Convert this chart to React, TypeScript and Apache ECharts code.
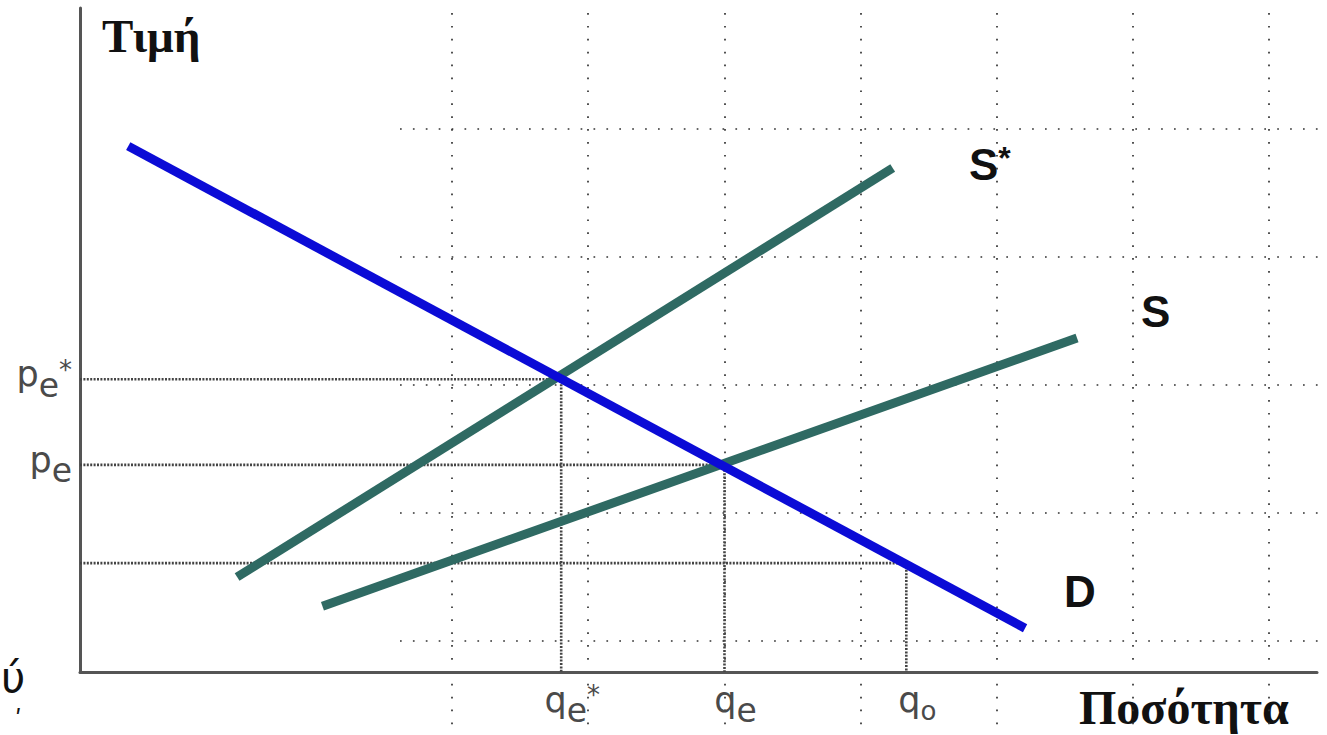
import React, { useEffect, useRef } from "react";
import * as echarts from "echarts";

// ---- data (units: quantity 0..100, price 0..100) ----
const quantityTickValues = [38.9, 52.1, 66.8];
const quantityTickLabels = ["qe*", "qe", "q0"];
const priceTickValues = [31.2, 44.1];
const priceTickLabels = ["pe", "pe*"];

const demandD = [
  [3.9, 79.2],
  [76.4, 6.6],
];
const supplyS = [
  [19.6, 9.9],
  [80.6, 50.3],
];
const supplySStar = [
  [12.7, 14.3],
  [65.7, 75.9],
];

const qeStar = 38.9;
const peStar = 44.1;
const qe = 52.1;
const pe = 31.2;
const q0 = 66.8;
const p0 = 16.4;

const guideStar = [
  [0, peStar],
  [qeStar, peStar],
  [qeStar, 0],
];
const guideE = [
  [0, pe],
  [qe, pe],
  [qe, 0],
];
const guide0 = [
  [0, p0],
  [q0, p0],
  [q0, 0],
];

const xLabelRich: Record<string, string> = {
  "qe*": "{q|q}{e|e}{st|*}",
  qe: "{q|q}{e|e}",
  q0: "{q|q}{o|o}",
};
const yLabelRich: Record<string, string> = {
  "pe*": "{q|p}{e|e}{st|*}",
  pe: "{q|p}{e|e}",
};

function nearestIndex(arr: number[], v: number) {
  let best = 0;
  for (let i = 1; i < arr.length; i++) {
    if (Math.abs(arr[i] - v) < Math.abs(arr[best] - v)) best = i;
  }
  return best;
}

const labelFont = "'DejaVu Sans', Verdana, sans-serif";
const labelColor = "#4a4a4a";
const rich = {
  q: { fontSize: 35, fontFamily: labelFont, color: labelColor, verticalAlign: "top" },
  e: { fontSize: 33, fontFamily: labelFont, color: labelColor, padding: [12, 0, 0, 0] },
  o: { fontSize: 26, fontFamily: labelFont, color: labelColor, padding: [16, 0, 0, 0] },
  st: { fontSize: 26, fontFamily: labelFont, color: labelColor, verticalAlign: "top" },
};

const gridDot = { color: "#333", width: 1.7, type: [1.7, 11.2] as number[] };
const guideStyle = { color: "#444", width: 2.6, type: [2, 1.4] as number[] };

const curveLabelStyle = {
  fontWeight: "bold",
  fontFamily: "'Liberation Sans', Arial, sans-serif",
  fill: "#111",
  align: "left",
  verticalAlign: "top",
};

export default function App() {
  const ref = useRef<HTMLDivElement>(null);

  useEffect(() => {
    if (!ref.current) return;
    const chart = echarts.init(ref.current, undefined, { renderer: "svg" });

    const option: any = {
      animation: false,
      backgroundColor: "#ffffff",
      grid: [
        { left: 80, right: 10, top: 8, bottom: 63, outerBoundsMode: "none" },
        { left: 452, top: 13, width: 817, height: 722, outerBoundsMode: "none" },
        { left: 400, right: 0, top: 129, height: 512, outerBoundsMode: "none" },
      ],
      xAxis: [
        {
          type: "value",
          gridIndex: 0,
          min: 0,
          max: 100,
          axisLine: { show: true, lineStyle: { color: "#555", width: 3 } },
          axisTick: { show: false },
          splitLine: { show: false },
          axisLabel: {
            show: true,
            customValues: quantityTickValues,
            margin: 10,
            padding: [0, 0, 0, 22],
            formatter: (v: number) =>
              xLabelRich[quantityTickLabels[nearestIndex(quantityTickValues, v)]],
            rich,
          },
        },
        {
          type: "value",
          gridIndex: 1,
          min: 0,
          max: 6,
          interval: 1,
          axisLine: { show: false },
          axisTick: { show: false },
          axisLabel: { show: false },
          splitLine: { show: true, lineStyle: gridDot },
        },
        {
          type: "value",
          gridIndex: 2,
          min: 0,
          max: 1,
          show: false,
        },
      ],
      yAxis: [
        {
          type: "value",
          gridIndex: 0,
          min: 0,
          max: 100,
          axisLine: { show: true, lineStyle: { color: "#555", width: 3 } },
          axisTick: { show: false },
          splitLine: { show: false },
          axisLabel: {
            show: true,
            customValues: priceTickValues,
            margin: 8,
            formatter: (v: number) =>
              yLabelRich[priceTickLabels[nearestIndex(priceTickValues, v)]],
            rich,
          },
        },
        {
          type: "value",
          gridIndex: 1,
          min: 0,
          max: 1,
          show: false,
        },
        {
          type: "value",
          gridIndex: 2,
          min: 0,
          max: 4,
          interval: 1,
          axisLine: { show: false },
          axisTick: { show: false },
          axisLabel: { show: false },
          splitLine: { show: true, lineStyle: gridDot },
        },
      ],
      series: [
        {
          name: "guide*",
          type: "line",
          data: guideStar,
          symbol: "none",
          lineStyle: guideStyle,
          z: 3,
          silent: true,
        },
        {
          name: "guideE",
          type: "line",
          data: guideE,
          symbol: "none",
          lineStyle: guideStyle,
          z: 3,
          silent: true,
        },
        {
          name: "guide0",
          type: "line",
          data: guide0,
          symbol: "none",
          lineStyle: guideStyle,
          z: 3,
          silent: true,
        },
        {
          name: "S*",
          type: "line",
          data: supplySStar,
          symbol: "none",
          lineStyle: { color: "#2f6a63", width: 9 },
          z: 4,
        },
        {
          name: "S",
          type: "line",
          data: supplyS,
          symbol: "none",
          lineStyle: { color: "#2f6a63", width: 9 },
          z: 4,
        },
        {
          name: "D",
          type: "line",
          data: demandD,
          symbol: "none",
          lineStyle: { color: "#0b0bd6", width: 9 },
          z: 5,
        },
      ],
      graphic: [
        {
          type: "text",
          x: 102,
          y: 12,
          style: {
            text: "Τιμή",
            fontSize: 47,
            fontWeight: "bold",
            fontFamily: "'Liberation Serif', 'DejaVu Serif', serif",
            fill: "#111",
            align: "left",
            verticalAlign: "top",
          },
        },
        {
          type: "text",
          x: 1079,
          y: 683,
          style: {
            text: "Ποσότητα",
            fontSize: 48,
            fontWeight: "bold",
            fontFamily: "'Liberation Serif', 'DejaVu Serif', serif",
            fill: "#111",
            align: "left",
            verticalAlign: "top",
          },
        },
        {
          type: "text",
          x: 969,
          y: 142,
          style: {
            ...curveLabelStyle,
            text: "{a|S}{b|*}",
            rich: {
              a: { fontSize: 44, fontWeight: "bold", fontFamily: "'Liberation Sans', Arial, sans-serif", fill: "#111" },
              b: {
                fontSize: 32,
                fontWeight: "bold",
                fontFamily: "'Liberation Sans', Arial, sans-serif",
                fill: "#111",
                verticalAlign: "top",
              },
            },
          },
        },
        {
          type: "text",
          x: 1141,
          y: 289,
          style: { ...curveLabelStyle, text: "S", fontSize: 44 },
        },
        {
          type: "text",
          x: 1064,
          y: 569,
          style: { ...curveLabelStyle, text: "D", fontSize: 44 },
        },
        {
          type: "text",
          x: 1,
          y: 656,
          style: {
            text: "ύ",
            fontSize: 42,
            fontFamily: "'DejaVu Sans', sans-serif",
            fill: "#111",
            align: "left",
            verticalAlign: "top",
          },
        },
        {
          type: "text",
          x: 15,
          y: 708,
          style: {
            text: "ʹ",
            fontSize: 24,
            fontFamily: "'DejaVu Sans', sans-serif",
            fill: "#111",
            align: "left",
            verticalAlign: "top",
          },
        },
      ],
    };

    chart.setOption(option);
    return () => chart.dispose();
  }, []);

  return (
    <div
      ref={ref}
      style={{ position: "fixed", left: 0, top: 0, width: 1327, height: 735, background: "#fff" }}
    />
  );
}
